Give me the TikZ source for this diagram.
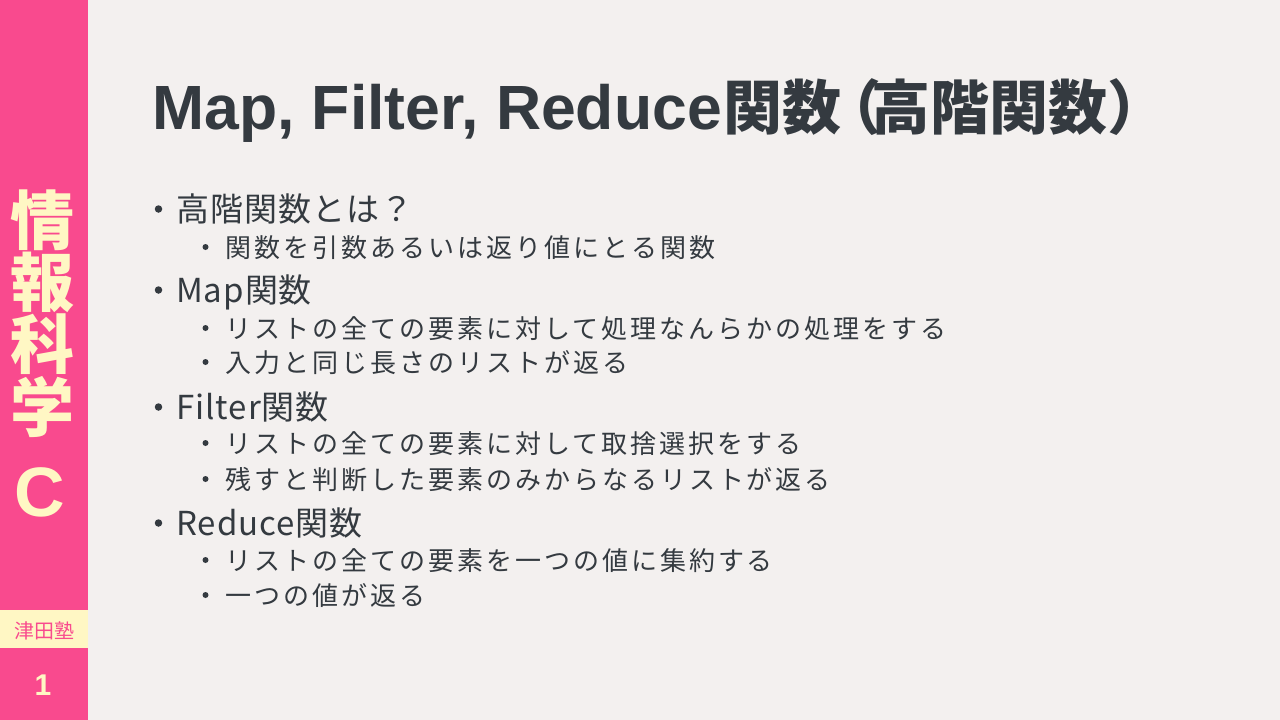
\documentclass[tikz,border=0pt]{standalone}
\usepackage{fontspec}
\setmainfont{Noto Sans CJK JP}
\newfontfamily\cjkb{Noto Sans CJK JP}[UprightFont={* Bold},BoldFont={* Black}]
\newfontfamily\latb{Liberation Sans}
\newfontfamily\lvone{Noto Sans CJK JP}[LetterSpace=3]
\newfontfamily\lvtwo{Noto Sans CJK JP}[LetterSpace=11.5]
\definecolor{bg}{RGB}{243,240,239}
\definecolor{pinkbar}{RGB}{249,74,142}
\definecolor{cream}{RGB}{255,247,196}
\definecolor{ink}{RGB}{52,58,64}
\tikzset{
  lone/.style={anchor=base west,inner sep=0pt,text=ink,font=\lvone\fontsize{33}{36}\selectfont},
  ltwo/.style={anchor=base west,inner sep=0pt,text=ink,font=\lvtwo\fontsize{26}{30}\selectfont},
  bone/.style={circle,fill=ink,inner sep=0pt,minimum size=7.5pt},
  btwo/.style={circle,fill=ink,inner sep=0pt,minimum size=6pt},
  sidech/.style={anchor=base,inner sep=0pt,text=cream,font=\cjkb\bfseries\fontsize{64}{64}\selectfont},
}
\begin{document}
\begin{tikzpicture}[x=1pt,y=-1pt]
\useasboundingbox (0,0) rectangle (1280,720);
\fill[bg] (0,0) rectangle (1280,720);
% sidebar
\fill[pinkbar] (0,0) rectangle (88,720);
\fill[cream] (0,610) rectangle (88,648);
\node[sidech] (s1) at (42,244) {情};
\node[sidech] (s2) at (42,306) {報};
\node[sidech] (s3) at (42,368) {科};
\node[sidech] (s4) at (42,431) {学};
\node[anchor=base,inner sep=0pt,text=cream,font=\latb\bfseries\fontsize{70}{70}\selectfont] (sc) at (40,516) {C};
\node[anchor=base,inner sep=0pt,text=pinkbar,font=\fontsize{20}{20}\selectfont] (tsuda) at (44,638.5) {津田塾};
\node[anchor=base,inner sep=0pt,text=cream,font=\latb\bfseries\fontsize{30}{30}\selectfont] (pg) at (43,695) {1};
% title
\node[anchor=base west,inner sep=0pt,text=ink] (title) at (152,129)
  {\latb\bfseries\fontsize{62.5}{62}\selectfont Map, Filter, Reduce\kern2pt\cjkb\bfseries\fontsize{59}{59}\selectfont 関数\kern-19pt（\kern-10pt高階関数）};
% items
\node[bone] (b1) at (158.5,209) {};
\node[lone] (i1) at (176,221.5) {高階関数とは？};
\node[btwo] (b11) at (205.5,247) {};
\node[ltwo] (i11) at (225,257) {関数を引数あるいは返り値にとる関数};
\node[bone] (b2) at (158.5,290) {};
\node[lone] (i2) at (176,302.5) {Map関数};
\node[btwo] (b21) at (205.5,328) {};
\node[ltwo] (i21) at (225,338) {リストの全ての要素に対して処理なんらかの処理をする};
\node[btwo] (b22) at (205.5,362) {};
\node[ltwo] (i22) at (225,372) {入力と同じ長さのリストが返る};
\node[bone] (b3) at (158.5,407) {};
\node[lone] (i3) at (176,419.5) {Filter関数};
\node[btwo] (b31) at (205.5,443) {};
\node[ltwo] (i31) at (225,453) {リストの全ての要素に対して取捨選択をする};
\node[btwo] (b32) at (205.5,479) {};
\node[ltwo] (i32) at (225,489) {残すと判断した要素のみからなるリストが返る};
\node[bone] (b4) at (158.5,523) {};
\node[lone] (i4) at (176,535.5) {Reduce関数};
\node[btwo] (b41) at (205.5,560) {};
\node[ltwo] (i41) at (225,570) {リストの全ての要素を一つの値に集約する};
\node[btwo] (b42) at (205.5,595) {};
\node[ltwo] (i42) at (225,605) {一つの値が返る};
\end{tikzpicture}
\end{document}
